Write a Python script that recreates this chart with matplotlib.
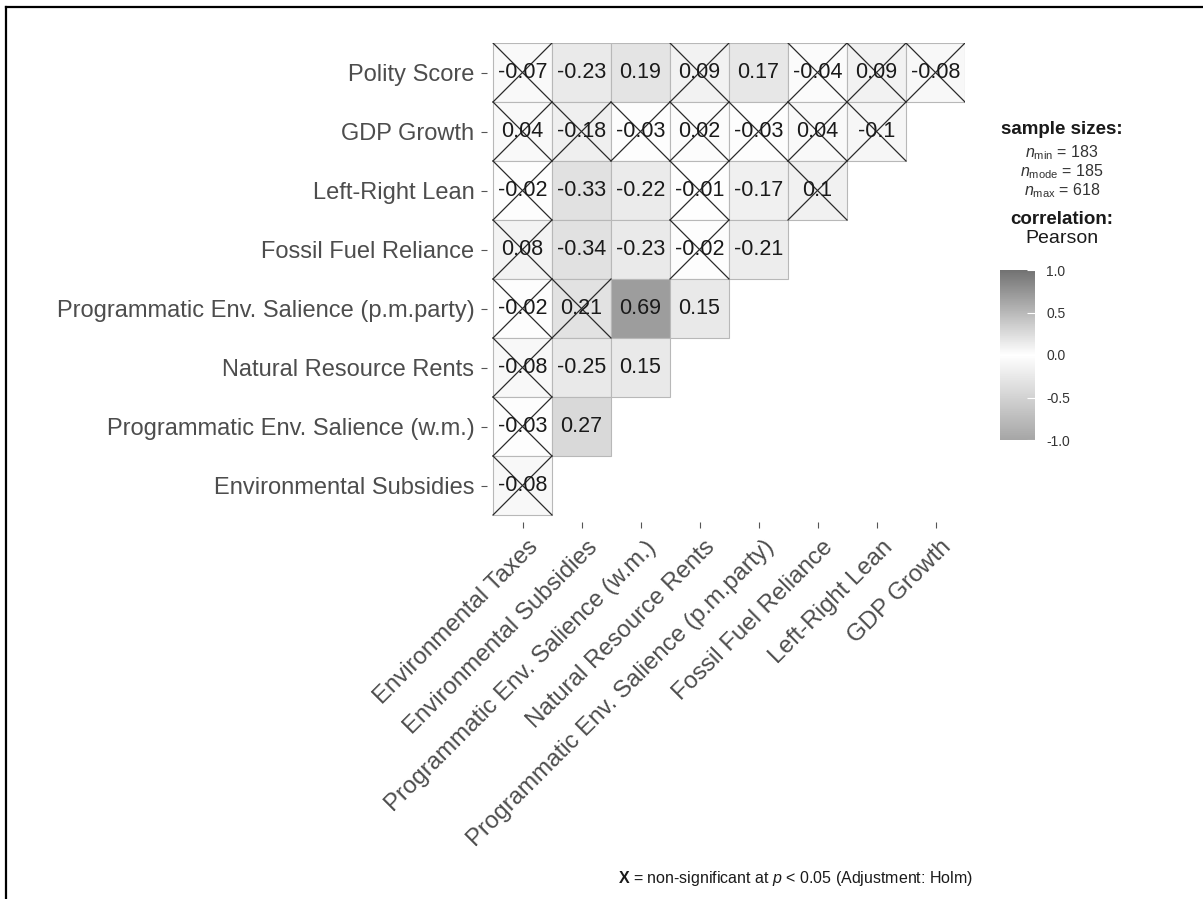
import numpy as np
import matplotlib
matplotlib.use("Agg")
import matplotlib.pyplot as plt
from matplotlib.colors import LinearSegmentedColormap, Normalize
from matplotlib.colorbar import ColorbarBase
from matplotlib.patches import Rectangle

plt.rcParams['font.family'] = ['Liberation Sans', 'DejaVu Sans']
plt.rcParams['mathtext.fontset'] = 'custom'
plt.rcParams['mathtext.rm'] = 'Liberation Sans'
plt.rcParams['mathtext.it'] = 'Liberation Sans:italic'
plt.rcParams['mathtext.bf'] = 'Liberation Sans:bold'

# variables on each axis
row_labels = ["Polity Score", "GDP Growth", "Left-Right Lean", "Fossil Fuel Reliance",
              "Programmatic Env. Salience (p.m.party)", "Natural Resource Rents",
              "Programmatic Env. Salience (w.m.)", "Environmental Subsidies"]
col_labels = ["Environmental Taxes", "Environmental Subsidies",
              "Programmatic Env. Salience (w.m.)", "Natural Resource Rents",
              "Programmatic Env. Salience (p.m.party)", "Fossil Fuel Reliance",
              "Left-Right Lean", "GDP Growth"]

# lower-triangle correlations, one list per row (top to bottom)
r_polity = [-0.07, -0.23, 0.19, 0.09, 0.17, -0.04, 0.09, -0.08]
r_gdp = [0.04, -0.18, -0.03, 0.02, -0.03, 0.04, -0.1]
r_lr = [-0.02, -0.33, -0.22, -0.01, -0.17, 0.1]
r_fossil = [0.08, -0.34, -0.23, -0.02, -0.21]
r_pmparty = [-0.02, 0.21, 0.69, 0.15]
r_rents = [-0.08, -0.25, 0.15]
r_wm = [-0.03, 0.27]
r_subs = [-0.08]

# non-significant cells (Holm-adjusted)
ns_polity = [True, False, False, True, False, True, True, True]
ns_gdp = [True, True, True, True, True, True, True]
ns_lr = [True, False, False, True, False, True]
ns_fossil = [True, False, False, True, False]
ns_pmparty = [True, True, False, False]
ns_rents = [True, False, False]
ns_wm = [True, False]
ns_subs = [True]

rows_r = [r_polity, r_gdp, r_lr, r_fossil, r_pmparty, r_rents, r_wm, r_subs]
rows_ns = [ns_polity, ns_gdp, ns_lr, ns_fossil, ns_pmparty, ns_rents, ns_wm, ns_subs]

n_min, n_mode, n_max = 183, 185, 618

n = len(col_labels)
cmap = LinearSegmentedColormap.from_list("grey2", ["#a6a6a6", "#ffffff", "#727272"])
norm = Normalize(-1, 1)

W, H = 1203, 899
fig = plt.figure(figsize=(W / 100, H / 100), dpi=100)
# panel with a small gap between the tiles and the tick marks
ax = fig.add_axes([487 / W, 1 - 522 / H, 478 / W, 479 / H])
ax.set_xlim(-0.5 - 6 / 59, n - 0.5)
ax.set_ylim(n - 0.5 + 7 / 59, -0.5)

for i, (vals, ns) in enumerate(zip(rows_r, rows_ns)):
    for j, v in enumerate(vals):
        ax.add_patch(Rectangle((j - 0.5, i - 0.5), 1, 1, facecolor=cmap(norm(v)),
                               edgecolor="#b8b8b8", lw=0.8))
    for j, v in enumerate(vals):
        if ns[j]:
            ax.plot([j - 0.5, j + 0.5], [i - 0.5, i + 0.5], color="#2a2a2a", lw=0.9)
            ax.plot([j - 0.5, j + 0.5], [i + 0.5, i - 0.5], color="#2a2a2a", lw=0.9)
        ax.text(j, i, f"{v:g}", ha="center", va="center", fontsize=15.5, color="#1a1a1a")

for s in ax.spines.values():
    s.set_visible(False)
ax.set_xticks(range(n))
ax.set_yticks(range(n))
ax.set_xticklabels([])
ax.set_yticklabels(row_labels)
ax.tick_params(length=4, width=0.8, color="#555555", labelcolor="#4d4d4d",
               labelsize=17, pad=5)

# slanted column labels ending just right of their ticks
for j, lab in enumerate(col_labels):
    ax.text(j + 0.08, -0.03, lab, transform=ax.get_xaxis_transform(),
            rotation=45, rotation_mode="anchor", ha="right", va="top",
            fontsize=17.3, color="#4d4d4d")

# legend: sample sizes
fig.text(1062 / W, 1 - 130 / H, "sample sizes:", ha="center", va="center",
         fontsize=13.5, fontweight="bold", color="#1a1a1a")
fig.text(1062 / W, 1 - 153 / H, r"$n_{\mathrm{min}}$ = %d" % n_min, ha="center",
         va="center", fontsize=11.5, color="#333333")
fig.text(1062 / W, 1 - 172 / H, r"$n_{\mathrm{mode}}$ = %d" % n_mode, ha="center",
         va="center", fontsize=11.5, color="#333333")
fig.text(1062 / W, 1 - 191 / H, r"$n_{\mathrm{max}}$ = %d" % n_max, ha="center",
         va="center", fontsize=11.5, color="#333333")

# legend: colour bar
fig.text(1062 / W, 1 - 220 / H, "correlation:", ha="center", va="center",
         fontsize=13.5, fontweight="bold", color="#1a1a1a")
fig.text(1062 / W, 1 - 238 / H, "Pearson", ha="center", va="center",
         fontsize=14, color="#1a1a1a")
cax = fig.add_axes([1000 / W, 1 - 440 / H, 35 / W, 170 / H])
cb = ColorbarBase(cax, cmap=cmap, norm=norm, ticks=[-1, -0.5, 0, 0.5, 1])
cb.outline.set_visible(False)
cb.ax.set_yticklabels(["-1.0", "-0.5", "0.0", "0.5", "1.0"])
cb.ax.tick_params(direction="in", length=6, color="white", width=0.8,
                  labelsize=10, labelcolor="#333333", pad=8)

fig.text(795 / W, 1 - 878 / H,
         r"$\mathbf{X}$ = non-significant at $p$ < 0.05 (Adjustment: Holm)",
         ha="center", va="center", fontsize=11.5, color="#1a1a1a")

# outer frame on top and left edges
fig.add_artist(plt.Line2D([6 / W, 6 / W], [0, 1 - 7 / H], color="black", lw=1.6,
                          transform=fig.transFigure))
fig.add_artist(plt.Line2D([6 / W, 1], [1 - 7 / H, 1 - 7 / H], color="black", lw=1.6,
                          transform=fig.transFigure))

fig.savefig("out.png", dpi=100)
